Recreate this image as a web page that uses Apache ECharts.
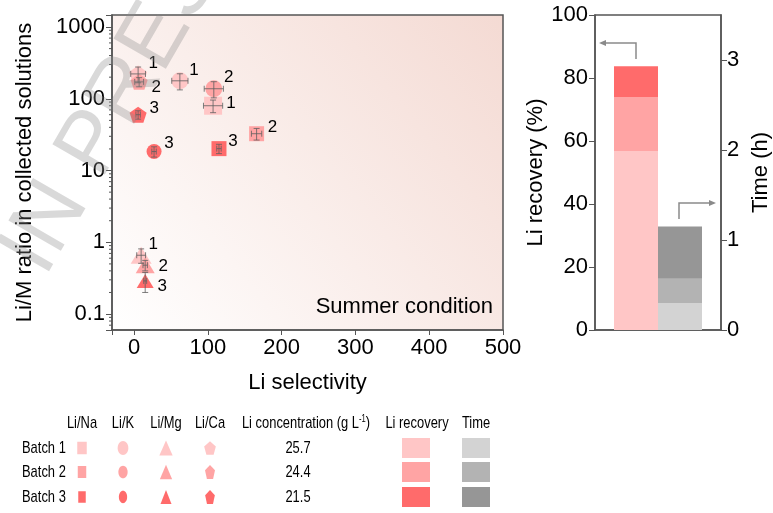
<!DOCTYPE html>
<html>
<head>
<meta charset="utf-8">
<script src="https://cdn.jsdelivr.net/npm/echarts@6/dist/echarts.min.js"></script>
<style>
  html, body { margin: 0; padding: 0; background: #fff; }
  #chart { width: 773px; height: 513px; }
</style>
</head>
<body>
<div id="chart"></div>
<script>
// ---- data ----
var metals = ['Li/Na', 'Li/K', 'Li/Mg', 'Li/Ca'];
var batches = ['Batch 1', 'Batch 2', 'Batch 3'];

// Li selectivity (x) and Li/M ratio (y), one entry per batch
var selNa = [107, 166, 115];
var ratioNa = [80, 32.6, 20.2];
var selK = [62, 108, 27];
var ratioK = [178, 138, 18.4];
var selMg = [9.5, 15, 15];
var ratioMg = [0.66, 0.48, 0.29];
var selCa = [5.4, 6.8, 5.4];
var ratioCa = [222, 172, 60];

// error bars (+/-)
var selErrNa = [13, 7, 3];
var ratioErrNa = [16, 6, 3];
var selErrK = [11, 13, 3];
var ratioErrK = [45, 35, 3];
var selErrMg = [6, 3, 2];
var ratioErrMg = [0.15, 0.08, 0.09];
var selErrCa = [10, 6, 3];
var ratioErrCa = [55, 25, 8];

var liConc = [25.7, 24.4, 21.5];          // g L-1
var liRecovery = [56.8, 17.2, 9.7];       // %, stacked per batch
var timeH = [0.30, 0.27, 0.58];           // h, stacked per batch

var xTicks = [0, 100, 200, 300, 400, 500];
var yTicks = [0.1, 1, 10, 100, 1000];

// ---- styles ----
var batchColors = ['#FFC6C6', '#FFA4A4', '#FF6B6B'];
var grayColors = ['#D3D3D3', '#B3B3B3', '#969696'];
var FONT = 'Liberation Sans, Arial, sans-serif';
var AX = '#555';

var pentaPath = 'path://M0,-1L0.951,-0.309L0.588,0.809L-0.588,0.809L-0.951,-0.309Z';
var symbols = ['rect', 'circle', 'triangle', pentaPath];
var sizes = [
  [[18, 18], [15, 15], [15, 15]],
  [[17, 17], [17, 17], [15, 15]],
  [[21, 17], [19, 16], [17, 14]],
  [[18, 17], [17, 16], [17, 16]]
];
var labelOffsets = [
  [[18, -2], [16, -6], [14, -7]],
  [[14, -10], [15, -11], [15, -8]],
  [[12, -11], [18, 1], [17, 5]],
  [[15, -11], [17, 5], [16, -6]]
];

var sels = [selNa, selK, selMg, selCa];
var ratios = [ratioNa, ratioK, ratioMg, ratioCa];
var selErrs = [selErrNa, selErrK, selErrMg, selErrCa];
var ratioErrs = [ratioErrNa, ratioErrK, ratioErrMg, ratioErrCa];

var chart = echarts.init(document.getElementById('chart'));

var scatterSeries = metals.map(function (m, mi) {
  return {
    name: m,
    type: 'scatter',
    xAxisIndex: 0,
    yAxisIndex: 0,
    symbol: symbols[mi],
    z: 3,
    label: {
      show: true,
      position: 'inside',
      formatter: function (p) { return String(p.dataIndex + 1); },
      color: '#000',
      fontSize: 17,
      fontFamily: FONT
    },
    data: batches.map(function (b, bi) {
      return {
        value: [sels[mi][bi], ratios[mi][bi]],
        symbolSize: sizes[mi][bi],
        itemStyle: { color: batchColors[bi], opacity: 1 },
        label: { offset: labelOffsets[mi][bi] }
      };
    })
  };
});

var errData = [];
metals.forEach(function (m, mi) {
  batches.forEach(function (b, bi) {
    errData.push([sels[mi][bi], ratios[mi][bi], selErrs[mi][bi], ratioErrs[mi][bi]]);
  });
});

function line(x1, y1, x2, y2) {
  return {
    type: 'line',
    shape: { x1: x1, y1: y1, x2: x2, y2: y2 },
    style: { stroke: 'rgba(95,95,95,0.8)', lineWidth: 1 }
  };
}

var errSeries = {
  type: 'custom',
  xAxisIndex: 0,
  yAxisIndex: 0,
  z: 4,
  silent: true,
  encode: { x: 0, y: 1 },
  data: errData,
  renderItem: function (params, api) {
    var x = api.value(0), y = api.value(1), xe = api.value(2), ye = api.value(3);
    var l = api.coord([x - xe, y]);
    var r = api.coord([x + xe, y]);
    var t = api.coord([x, y + ye]);
    var b = api.coord([x, y - ye]);
    var c = 3;
    return {
      type: 'group',
      children: [
        line(l[0], l[1], r[0], r[1]),
        line(l[0], l[1] - c, l[0], l[1] + c),
        line(r[0], r[1] - c, r[0], r[1] + c),
        line(t[0], t[1], b[0], b[1]),
        line(t[0] - c, t[1], t[0] + c, t[1]),
        line(b[0] - c, b[1], b[0] + c, b[1])
      ]
    };
  }
};

// log minor ticks on the left axis (2..9 per decade)
var minorVals = [];
for (var k = -2; k <= 3; k++) {
  for (var j = 2; j <= 9; j++) {
    var v = j * Math.pow(10, k);
    if (v > 0.06 && v < 1470) minorVals.push([-30, v]);
  }
}
var minorSeries = {
  type: 'custom',
  xAxisIndex: 0,
  yAxisIndex: 0,
  z: 5,
  silent: true,
  encode: { x: 0, y: 1 },
  data: minorVals,
  renderItem: function (params, api) {
    var p = api.coord([api.value(0), api.value(1)]);
    return {
      type: 'line',
      shape: { x1: p[0] - 3, y1: p[1], x2: p[0], y2: p[1] },
      style: { stroke: AX, lineWidth: 1 }
    };
  }
};

var barSeries = [];
batches.forEach(function (b, bi) {
  barSeries.push({
    name: 'Li recovery ' + b,
    type: 'bar',
    xAxisIndex: 1,
    yAxisIndex: 1,
    stack: 'recovery',
    barWidth: 44,
    barGap: '0%',
    itemStyle: { color: batchColors[bi] },
    data: [liRecovery[bi]]
  });
});
batches.forEach(function (b, bi) {
  barSeries.push({
    name: 'Time ' + b,
    type: 'bar',
    xAxisIndex: 1,
    yAxisIndex: 2,
    stack: 'time',
    barWidth: 44,
    barGap: '0%',
    itemStyle: { color: grayColors[bi] },
    data: [timeH[bi]]
  });
});

// ---- legend table (graphic), text squeezed horizontally like the original ----
function pentaPoints(cx, cy, w, h) {
  var pts = [[0, -1], [0.951, -0.309], [0.588, 0.809], [-0.588, 0.809], [-0.951, -0.309]];
  return pts.map(function (p) {
    return [cx + p[0] / 1.902 * w, cy + (p[1] + 0.0955) / 1.809 * h];
  });
}
function txt(x, y, s, align, extra) {
  var st = {
    text: s, x: 0, y: 0, fill: '#000', font: '17px ' + FONT,
    textAlign: align || 'center', textVerticalAlign: 'middle'
  };
  if (extra) for (var key in extra) st[key] = extra[key];
  return { type: 'text', x: x, y: y, scaleX: 0.76, style: st, z: 10 };
}

var rowY = [448, 472, 497];
var colX = [82, 123, 166, 210];
var legSizes = [
  [[9.5, 12.5], [8.5, 12], [7.5, 11.5]],
  [[10.7, 14], [9.3, 12.7], [8.3, 12.3]],
  [[13.3, 15], [12.3, 14.5], [11, 14]],
  [[11.7, 13.3], [10, 14], [9.7, 14]]
];
var graphics = [];
graphics.push(txt(colX[0], 423, metals[0]));
graphics.push(txt(colX[1], 423, metals[1]));
graphics.push(txt(colX[2], 423, metals[2]));
graphics.push(txt(colX[3], 423, metals[3]));
graphics.push(txt(306, 423, 'Li concentration (g L{sup|-1})', 'center', {
  rich: { sup: { fontSize: 10, fontFamily: FONT, verticalAlign: 'top', lineHeight: 14 } }
}));
graphics.push(txt(417, 423, 'Li recovery'));
graphics.push(txt(476, 423, 'Time'));

batches.forEach(function (b, bi) {
  var y = rowY[bi];
  var col = batchColors[bi];
  graphics.push(txt(22, y, b, 'left'));
  var s = legSizes[0][bi];
  graphics.push({ type: 'rect', shape: { x: colX[0] - s[0] / 2, y: y - s[1] / 2, width: s[0], height: s[1] }, style: { fill: col } });
  s = legSizes[1][bi];
  graphics.push({ type: 'ellipse', shape: { cx: colX[1], cy: y, rx: s[0] / 2, ry: s[1] / 2 }, style: { fill: col } });
  s = legSizes[2][bi];
  graphics.push({ type: 'polygon', shape: { points: [[colX[2], y - s[1] / 2], [colX[2] + s[0] / 2, y + s[1] / 2], [colX[2] - s[0] / 2, y + s[1] / 2]] }, style: { fill: col } });
  s = legSizes[3][bi];
  graphics.push({ type: 'polygon', shape: { points: pentaPoints(colX[3], y, s[0], s[1]) }, style: { fill: col } });
  graphics.push(txt(298, y, String(liConc[bi])));
  graphics.push({ type: 'rect', shape: { x: 402, y: y - 10, width: 28, height: 20 }, style: { fill: col } });
  graphics.push({ type: 'rect', shape: { x: 462, y: y - 10, width: 28, height: 20 }, style: { fill: grayColors[bi] } });
});

// annotation text and arrows
graphics.push({
  type: 'text', z: 10,
  style: { text: 'Summer condition', x: 493, y: 307, textAlign: 'right', textVerticalAlign: 'middle', font: '22px ' + FONT, fill: '#000' }
});
var arrowCol = '#8a8a8a';
graphics.push({ type: 'polyline', z: 10, shape: { points: [[636, 59], [636, 43], [604, 43]] }, style: { stroke: arrowCol, lineWidth: 1.5, fill: null } });
graphics.push({ type: 'polygon', z: 10, shape: { points: [[599, 43], [606, 40], [606, 46]] }, style: { fill: arrowCol } });
graphics.push({ type: 'polyline', z: 10, shape: { points: [[679, 219], [679, 203], [711, 203]] }, style: { stroke: arrowCol, lineWidth: 1.5, fill: null } });
graphics.push({ type: 'polygon', z: 10, shape: { points: [[716, 203], [709, 200], [709, 206]] }, style: { fill: arrowCol } });

// watermark
graphics.push({
  type: 'text', z: 100, x: 24, y: 266, rotation: Math.PI / 3,
  style: { text: 'IN PRESS', x: 0, y: 0, textAlign: 'left', textVerticalAlign: 'middle', font: '88px ' + FONT, fill: 'rgba(140,140,140,0.33)' }
});

var option = {
  animation: false,
  backgroundColor: '#fff',
  textStyle: { fontFamily: FONT },
  grid: [
    {
      left: 112, top: 15, width: 391, height: 315,
      show: true, borderColor: AX, borderWidth: 1.5,
      backgroundColor: new echarts.graphic.LinearGradient(0, 1, 1, 0, [
        { offset: 0, color: '#ffffff' },
        { offset: 1, color: '#F4DAD3' }
      ])
    },
    {
      left: 595, top: 15, width: 127, height: 315,
      show: true, borderColor: AX, borderWidth: 1.5, backgroundColor: 'transparent'
    }
  ],
  xAxis: [
    {
      type: 'value', gridIndex: 0, min: -30, max: 500, splitNumber: 5,
      name: 'Li selectivity', nameLocation: 'middle', nameGap: 42,
      nameTextStyle: { fontSize: 22, color: '#000', fontFamily: FONT },
      axisLine: { show: true, onZero: false, lineStyle: { color: AX, width: 1.5 } },
      axisTick: { show: true, length: 5, lineStyle: { color: AX } },
      axisLabel: {
        fontSize: 22, color: '#000', margin: 7, fontFamily: FONT,
        formatter: function (v) { return xTicks.indexOf(v) >= 0 ? String(v) : ''; }
      },
      splitLine: { show: false }
    },
    {
      type: 'category', gridIndex: 1, data: [''],
      axisLine: { show: true, onZero: false, lineStyle: { color: AX, width: 1.5 } },
      axisTick: { show: false },
      axisLabel: { show: false }
    }
  ],
  yAxis: [
    {
      type: 'log', gridIndex: 0, logBase: 10, min: 0.06, max: 1470,
      name: 'Li/M ratio in collected solutions', nameLocation: 'middle', nameGap: 76,
      nameTextStyle: { fontSize: 22, color: '#000', fontFamily: FONT },
      axisLine: { show: true, onZero: false, lineStyle: { color: AX, width: 1.5 } },
      axisTick: { show: true, length: 6, lineStyle: { color: AX } },
      axisLabel: {
        fontSize: 22, color: '#000', margin: 7, fontFamily: FONT,
        formatter: function (v) {
          var r = +Number(v).toPrecision(6);
          return yTicks.indexOf(r) >= 0 ? String(r) : '';
        }
      },
      splitLine: { show: false }
    },
    {
      type: 'value', gridIndex: 1, min: 0, max: 100, interval: 20,
      name: 'Li recovery (%)', nameLocation: 'middle', nameGap: 37,
      nameTextStyle: { fontSize: 22, color: '#000', fontFamily: FONT },
      axisLine: { show: true, onZero: false, lineStyle: { color: AX, width: 1.5 } },
      axisTick: { show: true, length: 6, lineStyle: { color: AX } },
      axisLabel: { fontSize: 22, color: '#000', margin: 7, fontFamily: FONT },
      splitLine: { show: false }
    },
    {
      type: 'value', gridIndex: 1, position: 'right', min: 0, max: 3.5, interval: 1,
      name: 'Time (h)', nameLocation: 'middle', nameGap: 29,
      nameTextStyle: { fontSize: 22, color: '#000', fontFamily: FONT },
      axisLine: { show: true, onZero: false, lineStyle: { color: AX, width: 1.5 } },
      axisTick: { show: true, length: 6, lineStyle: { color: AX } },
      axisLabel: { fontSize: 22, color: '#000', margin: 6, fontFamily: FONT, showMaxLabel: false },
      splitLine: { show: false }
    }
  ],
  series: scatterSeries.concat([errSeries, minorSeries]).concat(barSeries),
  graphic: graphics
};

chart.setOption(option);
</script>
</body>
</html>
